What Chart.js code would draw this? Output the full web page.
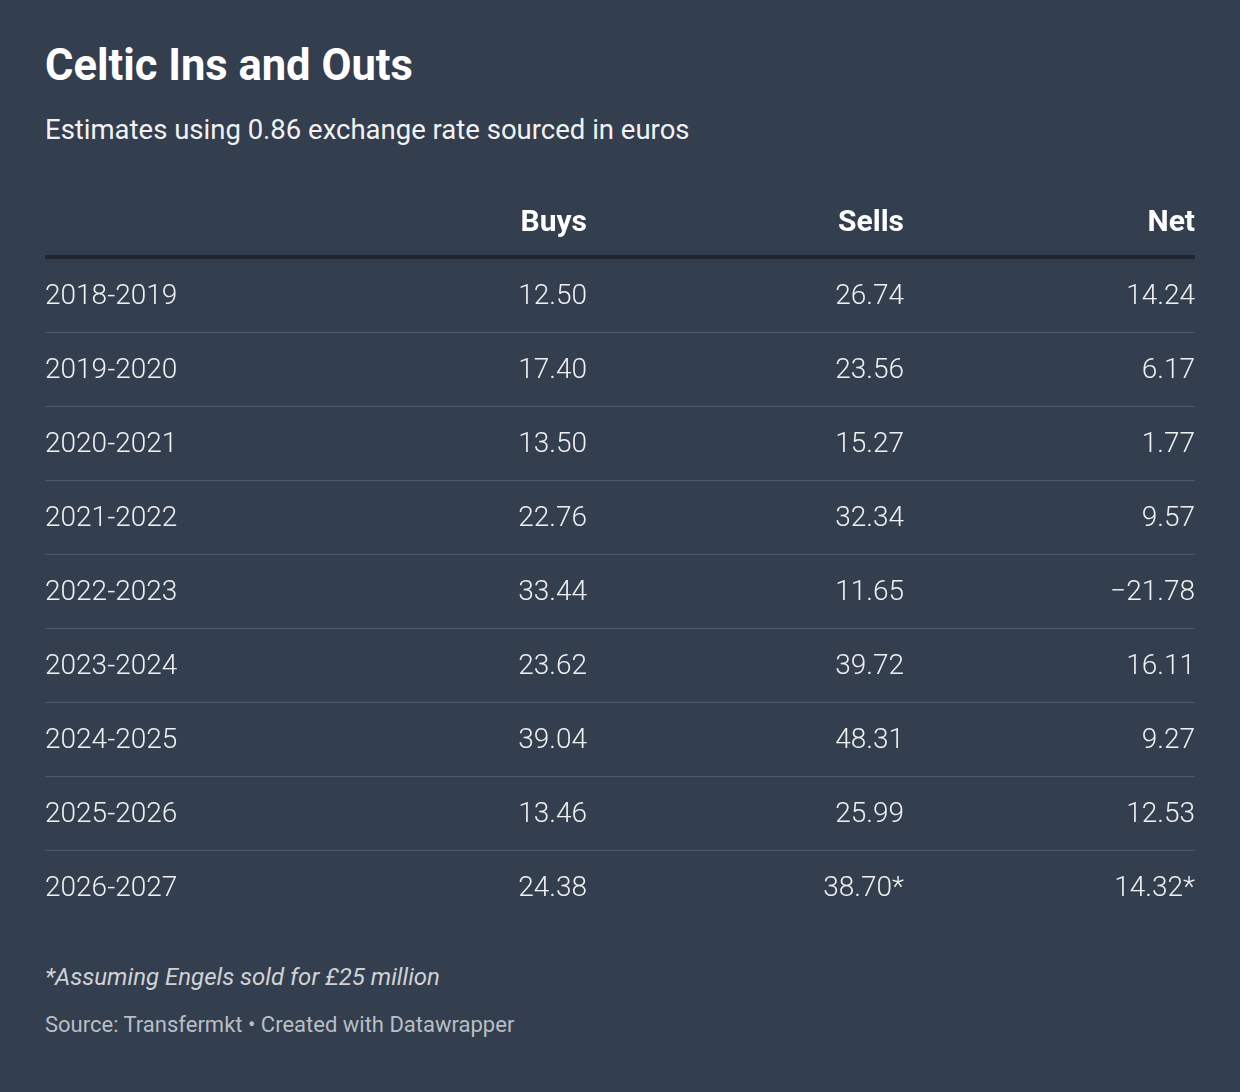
<!DOCTYPE html>
<html>
<head>
<meta charset="utf-8">
<script src="https://cdn.jsdelivr.net/npm/chart.js@4"></script>
<style>
  body { margin: 0; background: #333e4e; font-family: Roboto, sans-serif; }
  #wrap { position: relative; width: 1240px; height: 1092px; }
  h1 { position: absolute; left: 45px; top: 40px; margin: 0; font-size: 43.5px; font-weight: 700; color: #fff; }
  .sub { position: absolute; left: 45px; top: 113px; font-size: 27.5px; color: #f2f2f2; }
  canvas { position: absolute; left: 0; top: 186px; }
  .note { position: absolute; left: 45px; top: 963px; font-size: 24px; font-style: italic; color: #cfd2d6; }
  .src { position: absolute; left: 45px; top: 1012px; font-size: 22px; color: #b9bec5; }
</style>
</head>
<body>
<div id="wrap">
  <h1>Celtic Ins and Outs</h1>
  <div class="sub">Estimates using 0.86 exchange rate sourced in euros</div>
  <canvas id="tbl" width="1240" height="740"></canvas>
  <div class="note">*Assuming Engels sold for £25 million</div>
  <div class="src">Source: Transfermkt • Created with Datawrapper</div>
</div>
<script>
const columns = ["", "Buys", "Sells", "Net"];
const seasons = ["2018-2019", "2019-2020", "2020-2021", "2021-2022", "2022-2023",
                 "2023-2024", "2024-2025", "2025-2026", "2026-2027"];
const buys = [12.50, 17.40, 13.50, 22.76, 33.44, 23.62, 39.04, 13.46, 24.38];
const sells = [26.74, 23.56, 15.27, 32.34, 11.65, 39.72, 48.31, 25.99, 38.70];
const net = [14.24, 6.17, 1.77, 9.57, -21.78, 16.11, 9.27, 12.53, 14.32];
const starred = [false, false, false, false, false, false, false, false, true];

// x anchor per column (left edge for first, right edge for the rest)
const colX = [45, 587, 904, 1195];

function fmt(v) { return v.toFixed(2).replace("-", "\u2212"); }

const tablePlugin = {
  id: "tablePlugin",
  afterDraw(chart) {
    const ctx = chart.ctx;
    const x = chart.scales.x, y = chart.scales.y;
    const band = y.getPixelForValue(1) - y.getPixelForValue(0);
    ctx.save();
    ctx.textBaseline = "middle";
    // header
    ctx.font = "700 30px Roboto";
    ctx.fillStyle = "#ffffff";
    columns.forEach((c, i) => {
      ctx.textAlign = i === 0 ? "left" : "right";
      ctx.fillText(c, x.getPixelForValue(colX[i]), y.getPixelForValue(0));
    });
    // lines
    const left = x.getPixelForValue(45), right = x.getPixelForValue(1195);
    ctx.fillStyle = "#1f2631";
    ctx.fillRect(left, y.getPixelForValue(0) + band / 2 - 5, right - left, 4);
    ctx.fillStyle = "#4f5a69";
    for (let i = 1; i < seasons.length; i++) {
      ctx.fillRect(left, Math.round(y.getPixelForValue(i) + band / 2) - 2, right - left, 1);
    }
    // rows
    ctx.font = "300 28px Roboto";
    ctx.fillStyle = "#f0f0f0";
    seasons.forEach((s, r) => {
      const py = y.getPixelForValue(r + 1);
      const star = starred[r] ? "*" : "";
      const cells = [s, fmt(buys[r]), fmt(sells[r]) + star, fmt(net[r]) + star];
      cells.forEach((t, i) => {
        ctx.textAlign = i === 0 ? "left" : "right";
        ctx.fillText(t, x.getPixelForValue(colX[i]), py);
      });
    });
    ctx.restore();
  }
};

new Chart(document.getElementById("tbl"), {
  type: "scatter",
  data: { datasets: [{ data: [] }] },
  options: {
    responsive: false,
    animation: false,
    devicePixelRatio: 1,
    layout: { padding: 0 },
    plugins: { legend: { display: false }, tooltip: { enabled: false } },
    scales: {
      x: { type: "linear", min: 0, max: 1240, display: false },
      y: { type: "category", labels: ["header"].concat(seasons), offset: true, display: false }
    }
  },
  plugins: [tablePlugin]
});
</script>
</body>
</html>
